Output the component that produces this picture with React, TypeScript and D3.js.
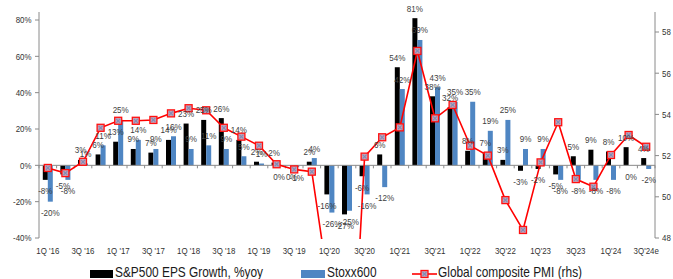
import React from "react";
import * as d3 from "d3";

const categories = [
  "1Q '16", "2Q '16", "3Q '16", "4Q '16",
  "1Q '17", "2Q '17", "3Q '17", "4Q '17",
  "1Q '18", "2Q '18", "3Q '18", "4Q '18",
  "1Q '19", "2Q '19", "3Q '19", "4Q '19",
  "1Q'20", "2Q'20", "3Q'20", "4Q'20",
  "1Q'21", "2Q'21", "3Q'21", "4Q'21",
  "1Q'22", "2Q'22", "3Q'22", "4Q'22",
  "1Q'23", "2Q'23", "3Q23", "4Q23",
  "1Q'24", "2Q'24", "3Q'24e",
];

const sp500 = [-8, -5, 3, 6, 13, 9, 7, 14, 23, 25, 26, 14, 2, 1.5, 0, 2, -16, -27, -6, 6, 54, 81, 38, 32, 8, 7, 3, -3, -2, -5, 5, 8.6, 7.6, 10, 4];
const stoxx600 = [-20, -8, 1, 11, 25, 14, 9, 16, 9, 11, 9, 5, 1, 0, -1, 4, -26, -25, -16, -12, 42, 69, 43, 35, 35, 19, 25, 9, 9, -8, -8, -8, -8, 0, -2];
const pmi = [51.4, 51.15, 51.7, 53.35, 53.69, 53.69, 53.73, 54.05, 54.3, 54.2, 53.35, 52.92, 52.48, 51.58, 51.33, 51.22, 45.4, 36.5, 51.95, 52.89, 53.37, 57.08, 53.81, 54.46, 52.48, 52.0, 49.84, 48.39, 51.67, 53.62, 50.86, 50.49, 52.03, 53.0, 52.43];

const leftTicks = [-40, -20, 0, 20, 40, 60, 80];
const rightTicks = [48, 50, 52, 54, 56, 58];

const W = 673, H = 279;
const FONT = "'Liberation Sans', Arial, sans-serif";

function T({ x, y, anchor = "middle", size = 9.5, fill = "#404040", children }: any) {
  return (
    <text
      transform={`translate(${x},${y}) scale(0.85,1)`}
      textAnchor={anchor}
      fontSize={size}
      fill={fill}
      fontFamily={FONT}
    >
      {children}
    </text>
  );
}

function Marker({ cx, cy }: { cx: number; cy: number }) {
  const s = 3.5;
  return (
    <g>
      <rect x={cx - s} y={cy - s} width={2 * s} height={2 * s} fill="#c9a0b4" stroke="#ff1010" strokeWidth={1.3} />
      <line x1={cx - 2} y1={cy - 2} x2={cx + 2} y2={cy + 2} stroke="#7d8db8" strokeWidth={1.1} />
      <line x1={cx - 2} y1={cy + 2} x2={cx + 2} y2={cy - 2} stroke="#7d8db8" strokeWidth={1.1} />
    </g>
  );
}

export default function App() {
  const x = d3.scaleBand<string>().domain(categories).range([39, 655]).padding(0);
  const yL = d3.scaleLinear().domain([-40, 80]).range([238, 20]);
  const yR = d3.scaleLinear().domain([48, 58]).range([238, 32]);
  const bw = x.bandwidth();
  const barW = 5;
  const cx = (c: string) => (x(c) as number) + bw / 2;
  const y0 = yL(0);

  const line = d3
    .line<number>()
    .x((_, i) => cx(categories[i]))
    .y((d) => yR(d));

  const labelY = (v: number, yTop: number, yBot: number) =>
    v > 0 ? yTop - 6.5 : yBot + 14.3;

  const fmt = (v: number) => `${Math.round(v)}%`;

  return (
    <svg width={W} height={H} style={{ position: "absolute", left: 0, top: 0 }}>
      <defs>
        <clipPath id="plotClip">
          <rect x={39} y={10} width={616} height={229} />
        </clipPath>
      </defs>
      <rect width={W} height={H} fill="#fff" />

      {/* bars */}
      {categories.map((c, i) => {
        const v1 = sp500[i];
        const v2 = stoxx600[i];
        const c0 = cx(c);
        return (
          <g key={c}>
            <rect x={c0 - barW} y={Math.min(yL(v1), y0)} width={barW} height={Math.abs(yL(v1) - y0)} fill="#000" />
            <rect x={c0} y={Math.min(yL(v2), y0)} width={barW} height={Math.abs(yL(v2) - y0)} fill="#4f86c3" />
          </g>
        );
      })}

      {/* zero line and category ticks */}
      <line x1={39} x2={655} y1={y0} y2={y0} stroke="#8a8a8a" strokeWidth={1} />
      {d3.range(categories.length + 1).map((i) => (
        <line key={i} x1={39 + i * bw} x2={39 + i * bw} y1={y0} y2={y0 + 3} stroke="#8a8a8a" strokeWidth={1} />
      ))}

      {/* left axis */}
      <line x1={39} x2={39} y1={12} y2={238} stroke="#8a8a8a" strokeWidth={1} />
      {leftTicks.map((t) => (
        <g key={t}>
          <line x1={35} x2={39} y1={yL(t)} y2={yL(t)} stroke="#8a8a8a" />
          <T x={31.5} y={yL(t) + 3.4} anchor="end" size={9.3} fill="#333">{`${t}%`}</T>
        </g>
      ))}

      {/* right axis */}
      <line x1={655} x2={655} y1={12} y2={238} stroke="#8a8a8a" strokeWidth={1} />
      {rightTicks.map((t) => (
        <g key={t}>
          <line x1={655} x2={659} y1={yR(t)} y2={yR(t)} stroke="#8a8a8a" />
          <T x={662} y={yR(t) + 3.4} anchor="start" size={9.3} fill="#333">{`${t}`}</T>
        </g>
      ))}

      {/* x labels */}
      {categories.map((c, i) =>
        i % 2 === 0 ? (
          <T key={c} x={cx(c)} y={253.5} size={9.3} fill="#333">{c}</T>
        ) : null
      )}

      {/* PMI line */}
      <g clipPath="url(#plotClip)">
        <path d={line(pmi) || ""} fill="none" stroke="#ff0000" strokeWidth={1.6} />
        {pmi.map((v, i) => (
          <Marker key={i} cx={cx(categories[i])} cy={yR(v)} />
        ))}
      </g>

      {/* data labels */}
      {categories.map((c, i) => {
        const v1 = sp500[i];
        const v2 = stoxx600[i];
        const c0 = cx(c);
        return (
          <g key={"l" + c}>
            <T x={c0 - barW / 2} y={labelY(v1, Math.min(yL(v1), y0), Math.max(yL(v1), y0))}>{fmt(v1)}</T>
            <T x={c0 + barW / 2} y={labelY(v2, Math.min(yL(v2), y0), Math.max(yL(v2), y0))}>{fmt(v2)}</T>
          </g>
        );
      })}

      {/* legend */}
      <rect x={90} y={270} width={23} height={8} fill="#000" />
      <T x={115} y={277} anchor="start" size={14} fill="#1a1a1a">S&amp;P500 EPS Growth, %yoy</T>
      <rect x={301} y={270} width={24} height={8} fill="#4f86c3" />
      <T x={327} y={277} anchor="start" size={14} fill="#1a1a1a">Stoxx600</T>
      <line x1={412} x2={437} y1={274} y2={274} stroke="#ff0000" strokeWidth={1.6} />
      <Marker cx={424.5} cy={274} />
      <T x={438} y={277} anchor="start" size={14} fill="#1a1a1a">Global composite PMI (rhs)</T>
    </svg>
  );
}
